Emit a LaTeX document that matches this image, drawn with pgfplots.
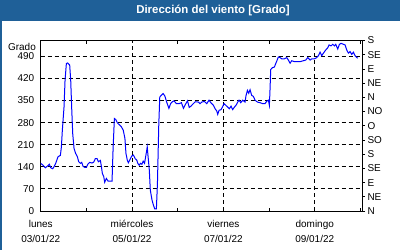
\documentclass[border=0pt]{standalone}
\usepackage{fontspec}
\setmainfont{Liberation Sans}
\usepackage{pgfplots}
\pgfplotsset{compat=1.18}
\definecolor{barblue}{RGB}{31,96,152}
\definecolor{lineblue}{RGB}{0,0,255}
\begin{document}
\begin{tikzpicture}[x=1bp,y=1bp]
\useasboundingbox (0,0) rectangle (400,250);
\fill[white] (0,0) rectangle (400,250);
\fill[barblue] (0,229) rectangle (400,250);
\fill[barblue] (0,0) rectangle (2,229);
\node[text=white, font=\bfseries\fontsize{11.5}{14}\selectfont] at (213,239.5) {Dirección del viento [Grado]};
\node[anchor=east, inner sep=0pt, font=\fontsize{10}{12}\selectfont] at (36,203.5) {Grado};
\begin{axis}[
  at={(40.7bp,39bp)}, anchor=south west,
  width=321.3bp, height=170.5bp, scale only axis,
  xmin=0, xmax=7.035, ymin=0, ymax=540,
  axis line style={black, line width=0.8bp},
  xtick={0,2,4,6},
  xticklabels={lunes\\03/01/22, miércoles\\05/01/22, viernes\\07/01/22, domingo\\09/01/22},
  minor xtick={1,3,5,7},
  ytick={0,70,...,490},
  major tick length=0pt,
  minor tick length=3bp,
  tick align=inside,
  tick style={black, line width=0.8bp},
  xmajorgrids, ymajorgrids,
  major grid style={black, line width=0.8bp, dash pattern=on 4bp off 3bp},
  ticklabel style={font=\fontsize{10}{15}\selectfont},
  xticklabel style={align=center, yshift=-6bp},
  yticklabel style={xshift=-3bp},
  /pgf/number format/assume math mode=true,
]
\addplot[lineblue, line width=1bp] coordinates {
(0,151)(0.051,145)(0.102,137)(0.146,142)(0.190,148)(0.219,137)(0.263,134)(0.292,140)
(0.328,151)(0.380,172)(0.431,176)(0.453,203)(0.474,256)(0.511,330)(0.533,414)(0.562,467)
(0.591,469)(0.635,462)(0.657,414)(0.679,325)(0.701,245)(0.730,198)(0.766,182)(0.803,172)
(0.832,156)(0.869,151)(0.898,154)(0.927,142)(0.964,138)(1.000,138)(1.036,149)(1.073,154)
(1.124,152)(1.161,155)(1.197,166)(1.234,166)(1.263,156)(1.307,160)(1.328,142)(1.350,119)
(1.380,109)(1.401,91)(1.438,103)(1.474,95)(1.511,95)(1.562,95)(1.584,193)(1.613,293)
(1.642,290)(1.679,279)(1.730,272)(1.766,267)(1.807,256)(1.844,230)(1.867,182)(1.896,161)
(1.919,153)(1.956,163)(1.993,174)(2.030,177)(2.067,166)(2.104,161)(2.126,151)(2.156,145)
(2.185,151)(2.215,148)(2.244,158)(2.274,151)(2.304,177)(2.333,203)(2.348,177)(2.378,130)
(2.400,66)(2.437,35)(2.467,19)(2.496,7)(2.533,7)(2.556,87)(2.585,272)(2.607,361)
(2.644,367)(2.681,372)(2.719,364)(2.756,346)(2.807,325)(2.844,340)(2.881,346)(2.919,349)
(2.970,340)(3.030,340)(3.081,343)(3.126,325)(3.178,340)(3.215,349)(3.252,328)(3.289,332)
(3.341,340)(3.385,346)(3.453,345)(3.489,340)(3.526,345)(3.584,347)(3.635,340)(3.686,351)
(3.730,342)(3.781,335)(3.818,324)(3.854,317)(3.876,306)(3.905,319)(3.949,321)(3.978,329)
(4.015,340)(4.051,335)(4.095,329)(4.131,324)(4.168,332)(4.204,321)(4.241,329)(4.277,335)
(4.314,345)(4.343,351)(4.380,343)(4.423,351)(4.474,345)(4.496,366)(4.526,382)(4.555,373)
(4.584,384)(4.620,366)(4.657,363)(4.693,351)(4.745,345)(4.803,343)(4.861,340)(4.912,340)
(4.949,348)(4.985,351)(5.007,335)(5.022,388)(5.036,448)(5.073,454)(5.117,456)(5.146,467)
(5.175,477)(5.204,488)(5.240,486)(5.277,482)(5.336,482)(5.387,486)(5.423,478)(5.460,468)
(5.496,476)(5.555,473)(5.606,473)(5.679,473)(5.752,476)(5.803,478)(5.847,486)(5.898,478)
(5.934,482)(5.993,482)(6.044,486)(6.080,492)(6.117,503)(6.153,492)(6.190,500)(6.241,510)
(6.285,517)(6.314,526)(6.358,523)(6.394,528)(6.431,523)(6.460,528)(6.504,513)(6.540,528)
(6.577,531)(6.628,528)(6.664,526)(6.701,510)(6.737,500)(6.774,505)(6.810,496)(6.847,503)
(6.883,492)(6.920,486)(6.942,484)
};
\end{axis}
\begin{axis}[
  at={(40.7bp,39bp)}, anchor=south west,
  width=321.3bp, height=170.5bp, scale only axis,
  xmin=0, xmax=7.035, ymin=0, ymax=540,
  axis x line=none, axis y line*=right,
  axis line style={black, line width=0.8bp, -},
  ytick={0,45,...,540},
  yticklabels={N,NE,E,SE,S,SO,O,NO,N,NE,E,SE,S},
  major tick length=3bp, tick align=outside,
  tick style={black, line width=0.8bp},
  ticklabel style={font=\fontsize{10}{12}\selectfont},
  yticklabel style={anchor=west, xshift=-1bp},
]
\end{axis}
\end{tikzpicture}
\end{document}
